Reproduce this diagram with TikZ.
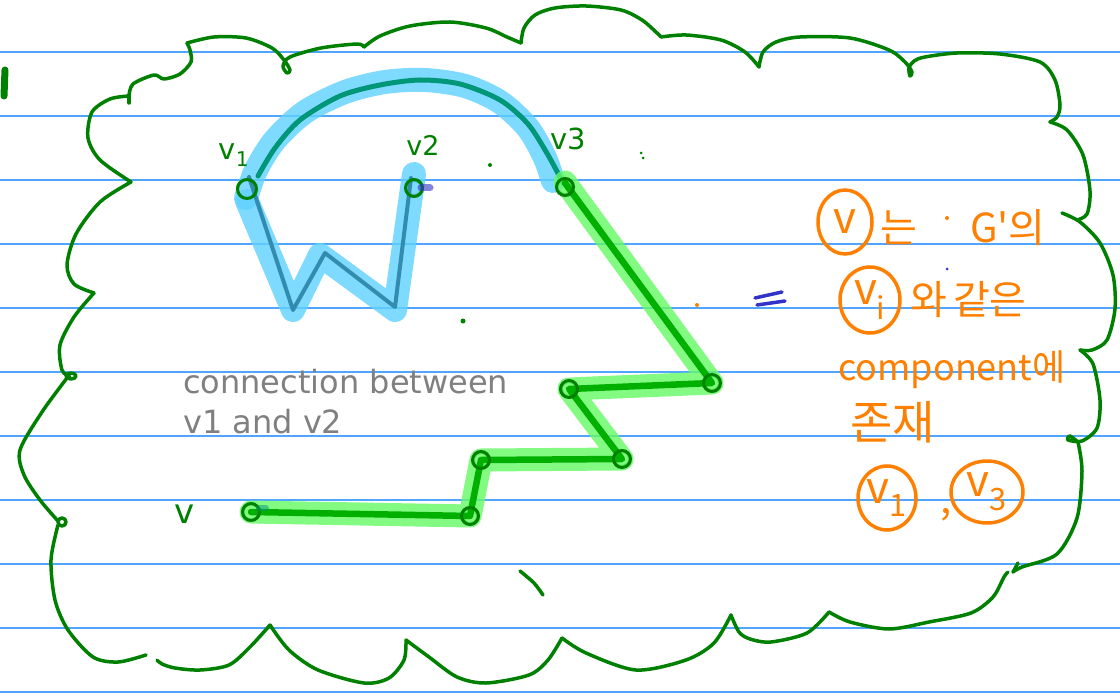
\documentclass[tikz,border=0pt]{standalone}
\usepackage{fontspec}
\setmainfont{DejaVu Sans}
\newfontfamily\kr{Noto Sans CJK KR}
\usetikzlibrary{shapes.geometric}
\definecolor{ruleblue}{RGB}{80,165,255}
\definecolor{cloudg}{RGB}{0,128,0}
\definecolor{hlblue}{RGB}{96,209,255}
\definecolor{wline}{RGB}{50,140,175}
\definecolor{arcteal}{RGB}{0,150,120}
\definecolor{hlgreen}{RGB}{100,250,100}
\definecolor{pathg}{RGB}{0,175,0}
\definecolor{orng}{RGB}{255,128,0}
\definecolor{inkblue}{RGB}{50,50,200}
\definecolor{graytext}{RGB}{128,128,128}
\begin{document}
\begin{tikzpicture}[x=1pt,y=-1pt,
  ruleline/.style={draw=ruleblue, line width=1.5},
  cloud/.style={draw=cloudg, line width=3.5, line cap=round, line join=round},
  hlb/.style={draw=hlblue, opacity=0.8, line width=24, line cap=round, line join=round},
  hlg/.style={draw=hlgreen, opacity=0.8, line width=23, line cap=round, line join=round},
  wstroke/.style={draw=wline, line width=4, line cap=round, line join=round},
  gstroke/.style={draw=pathg, line width=6.5, line cap=round, line join=round},
  vert/.style={circle, draw=cloudg, line width=3, minimum size=17, inner sep=0},
  glabel/.style={text=cloudg, inner sep=0, font=\fontsize{29}{30}\selectfont},
  gtxt/.style={text=graytext, inner sep=0, anchor=base west, font=\fontsize{32}{38}\selectfont},
  otxt/.style={text=orng, inner sep=0, font=\kr\fontsize{40}{42}\selectfont},
  ocirc/.style={ellipse, draw=orng, line width=3.5, inner sep=0, text=orng, font=\kr\fontsize{44}{46}\selectfont}
]
\useasboundingbox (0,0) rectangle (1120,698);
\fill[white] (0,0) rectangle (1120,698);
\foreach \y in {52,116,...,692} \draw[ruleline] (0,\y) -- (1120,\y);

% top-left mark
\draw[cloudg, line width=7, line cap=round] (5,70) -- (4,96);

% cloud outline
\draw[cloud] plot[smooth] coordinates {(129,96) (110,99) (92,112) (88,138) (100,160) (131,182)};
\draw[cloud] plot[smooth] coordinates {(131,182) (100,202) (76,234) (67,265) (74,284) (94,293)};
\draw[cloud] plot[smooth] coordinates {(94,293) (74,317) (60,345) (62,370) (70,377)};
\draw[cloud] (71,376) ellipse [x radius=5, y radius=3];
\draw[cloud] plot[smooth] coordinates {(67,378) (42,412) (20,450) (24,475) (40,500) (58,521)};
\draw[cloud] (62,522) circle [radius=4];
\draw[cloud] plot[smooth] coordinates {(58,525) (51,560) (55,600) (68,630) (93,657) (118,662) (146,655)};
\draw[cloud] (129,103) -- (129,95);
\draw[cloud] plot[smooth] coordinates {(129,96) (133,84) (154,75) (164,79) (180,74) (191,62) (190,50) (187,43)};
\draw[cloud] plot[smooth] coordinates {(187,43) (214,37) (246,38) (272,48) (284,60) (290,70) (287,73) (283,66) (290,57) (321,48) (357,44) (364,47)};
\draw[cloud] plot[smooth] coordinates {(364,47) (380,36) (410,26) (450,22) (486,28) (507,37) (521,43)};
\draw[cloud] plot[smooth] coordinates {(521,43) (524,28) (535,15) (555,8) (586,6) (621,10) (642,20) (657,33) (661,37)};
\draw[cloud] plot[smooth] coordinates {(661,37) (686,35) (721,40) (745,52) (759,67)};
\draw[cloud] plot[smooth] coordinates {(759,67) (763,52) (776,42) (800,37) (850,38) (889,50) (905,62) (912,72) (910,76) (909,68) (914,61) (925,57) (957,53) (1000,54) (1040,62) (1055,80) (1060,105) (1057,117) (1050,122)};
\draw[cloud] plot[smooth] coordinates {(1050,122) (1067,130) (1083,155) (1090,191) (1087,214) (1077,220)};
\draw[cloud] plot[smooth] coordinates {(1062,213) (1080,222) (1100,243) (1113,275) (1115,309) (1107,340) (1092,350) (1080,350)};
\draw[cloud] plot[smooth] coordinates {(1080,350) (1093,364) (1100,400) (1097,428) (1082,441) (1068,440) (1070,436) (1078,442)};
\draw[cloud] plot[smooth] coordinates {(1078,442) (1082,471) (1077,518) (1057,554) (1022,567) (1013,572)};
\draw[cloud] (1013,572) -- (1018,563);
\draw[cloud] plot[smooth] coordinates {(157,660) (162,664) (175,668) (200,670) (229,665) (250,647) (270,625)};
\draw[cloud] plot[smooth] coordinates {(270,625) (289,650) (318,670) (364,683) (389,678) (404,660) (406,640)};
\draw[cloud] plot[smooth] coordinates {(406,640) (429,657) (457,677) (486,683) (529,675) (548,660) (562,638)};
\draw[cloud] plot[smooth] coordinates {(562,638) (586,653) (636,670) (686,660) (714,643) (731,615)};
\draw[cloud] plot[smooth] coordinates {(731,615) (739,632) (750,639) (771,642) (807,633) (829,612)};
\draw[cloud] plot[smooth] coordinates {(829,612) (850,622) (889,629) (929,622) (971,613) (993,597) (1004,577) (1008,572)};
% stray stroke at bottom
\draw[cloud] plot[smooth] coordinates {(520,571) (534,583) (543,595)};

% vertices
\node[vert, minimum size=19] (v1) at (247,189) {};
\node[vert, minimum size=15] (v2) at (414,188) {};
\node[vert, minimum size=15] (v3) at (565,187) {};
\coordinate (w1) at (293,310);
\coordinate (w2) at (320,255);
\coordinate (w3) at (395,310);
\node[vert, minimum size=15] (p1) at (712,383) {};
\node[vert, minimum size=15] (p2) at (569,389) {};
\node[vert, minimum size=15] (p3) at (622,459) {};
\node[vert, minimum size=15] (p4) at (481,460) {};
\node[vert, minimum size=15] (p5) at (470,516) {};
\node[vert, minimum size=16] (vv) at (251,512) {};

% blue highlights
\draw[hlb] plot[smooth] coordinates {(246,198) (256,170) (275,140) (305,112) (345,92) (385,82) (425,80) (465,86) (500,102) (528,128) (545,158) (553,181)};
\draw[hlb] (v1.center) ++(0,12) -- (w1) -- (w2) -- (w3) -- ([yshift=14]v2.center);
\draw[draw=arcteal, line width=5, line cap=round] plot[smooth] coordinates {(258,176) (275,148) (300,120) (340,96) (380,85) (420,80) (460,84) (500,100) (528,124) (548,155) (563,183)};
\draw[wstroke] ([xshift=2,yshift=12]v1.center) -- (w1) -- ([xshift=5,yshift=2]w2) -- ([yshift=3]w3) -- ([xshift=-3,yshift=10]v2.center);

% green highlights
\draw[hlg] ([yshift=5]v3.center) -- (p1.center) -- (p2.center) -- (p3.center) -- (p4.center) -- (p5.center) -- (vv.center);
\draw[gstroke] ([yshift=4]v3.center) -- (p1.center) -- (p2.center) -- (p3.center) -- (p4.center) -- (p5.center) -- (vv.center);
\node[vert, minimum size=19] at (v1) {};
\foreach \n in {v2,v3,p1,p2,p3,p4,p5,vv} \node[vert] at (\n) {};

% smudges
\draw[inkblue, opacity=0.6, line width=7, line cap=round] (421,188) -- (430,188);
\draw[arcteal, opacity=0.5, line width=6, line cap=round] (259,508) -- (266,508);

% labels
\node[glabel] (l1) at (234,155) {v\textsubscript{1}};
\node[glabel, font=\fontsize{27}{28}\selectfont] (l2) at (423,145) {v2};
\node[glabel] (l3) at (568,139) {v3};
\node[glabel, font=\fontsize{34}{34}\selectfont] (lv) at (185,514) {v};

% stray dots
\fill[cloudg] (490,165) circle [radius=2];
\fill[cloudg] (641,153) circle [radius=1.5];
\fill[cloudg] (643,158) circle [radius=1.5];
\fill[cloudg] (463,321) circle [radius=2.5];
\fill[orng] (697,305) circle [radius=2];
\fill[orng] (947,218) circle [radius=2];
\fill[inkblue] (947,269) circle [radius=1.5];

% equals sign
\draw[inkblue, line width=3.5, line cap=round] (755,298) -- (782,292);
\draw[inkblue, line width=3.5, line cap=round] (757,305) -- (785,301);

% grey text
\node[gtxt] (t1) at (183,393) {connection between};
\node[gtxt] (t2) at (183,433) {v1 and v2};

% orange notes
\node[ocirc, minimum width=54, minimum height=64] (cv) at (845,222) {v};
\node[otxt, anchor=west] (k1) at (880,228) {는};
\node[otxt, anchor=west] (k2) at (970,228) {G'의};
\node[ocirc, minimum width=60, minimum height=66] (cvi) at (870,300) {v\textsubscript{i}};
\node[otxt, anchor=west] (k3) at (910,300) {와\hspace{6pt}같은};
\node[otxt, anchor=west, font=\kr\fontsize{36}{38}\selectfont] (k4) at (838,370) {component에};
\node[otxt, anchor=west, font=\kr\fontsize{46}{48}\selectfont] (k5) at (850,422) {존재};
\node[ocirc, minimum width=58, minimum height=64] (c1) at (887,498) {v\textsubscript{1}};
\node[otxt] (comma) at (946,515) {,};
\node[ocirc, minimum width=72, minimum height=62] (c3) at (987,492) {v\textsubscript{3}};
\end{tikzpicture}
\end{document}
